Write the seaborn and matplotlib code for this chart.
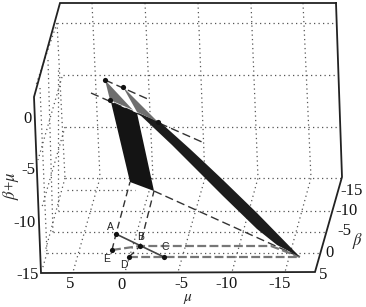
import matplotlib

matplotlib.use("Agg")

import matplotlib.pyplot as plt
import seaborn as sns

FRAME = [(336, 3), (60, 3), (34, 97), (41, 273), (315, 272), (342, 177), (336, 3)]

WALL_TOP_X = [92, 145, 198, 251, 303]
WALL_BOTTOM_X = [100, 153, 205, 258, 311]
FLOOR_FRONT_X = [73, 125, 178, 232, 285]
WALL_ROWS = [(57, 23, 335), (63, 75, 337), (65, 127, 339), (65, 178, 342)]
FLOOR_ROWS = [(67, 190, 135), (58, 211, 331), (53, 232, 326), (47, 253, 320)]
SIDE_LINES = [
    [(57, 23), (36, 85)],
    [(62, 77), (38, 160)],
    [(65, 127), (42, 207)],
    [(65, 178), (45, 252)],
    [(57, 23), (65, 178)],
    [(58, 70), (58, 210)],
    [(48, 60), (53, 233)],
    [(40, 88), (47, 253)],
    [(47, 253), (42, 270)],
]

GRAY_LEFT = [(105, 80), (110, 100), (133, 110)]
GRAY_RIGHT = [(123, 87), (137, 112), (158, 122)]
DARK_LEFT = [(111, 102), (137, 113), (154, 191), (130, 182)]
DARK_LONG = [
    (138, 113), (160, 122), (190, 149), (205, 163), (223, 180), (257, 213), (300, 257),
    (277, 245), (257, 229), (223, 196), (205, 178), (190, 163), (172, 145),
]

THIN_DASHED = [
    [(105, 80), (150, 100)],
    [(91, 93), (202, 142)],
    [(154, 191), (300, 257)],
]
DARK_DASHED = [
    [(112, 250), (116, 234), (130, 182)],
    [(129, 257), (140, 246), (154, 191)],
]
GRAY_DASHED = [
    [(112, 250), (140, 246), (271, 246), (300, 257)],
    [(129, 257), (300, 257)],
]
SEGMENT_AC = [(116, 234), (164, 257)]

POINTS = [(105, 80), (123, 87), (110, 100), (158, 122), (116, 234), (140, 246), (164, 257), (129, 257), (112, 250)]
POINT_LABELS = [("A", 110, 227), ("B", 141, 237), ("C", 165, 247), ("D", 124, 265), ("E", 107, 259)]

Z_TICKS = [("0", 28, 119), ("-5", 28, 170), ("-10", 25, 223), ("-15", 28, 275)]
MU_TICKS = [("5", 70, 284), ("0", 122, 285), ("-5", 181, 284), ("-10", 226, 284), ("-15", 280, 284)]
BETA_TICKS = [("5", 323, 275), ("0", 330, 253), ("-5", 344, 231), ("-10", 346, 211), ("-15", 352, 191)]


def draw_path(ax, pts, **kwargs):
    xs = [p[0] for p in pts]
    ys = [p[1] for p in pts]
    ax.plot(xs, ys, **kwargs)


sns.set_theme(style="white")
plt.rcParams["font.family"] = ["Liberation Serif", "DejaVu Serif"]

fig = plt.figure(figsize=(3.66, 3.07), dpi=100)
ax = fig.add_axes([0, 0, 1, 1])

dots = {"color": "#555555", "linewidth": 0.9, "linestyle": (0, (1, 2.6)), "zorder": 1}
for top, bottom, front in zip(WALL_TOP_X, WALL_BOTTOM_X, FLOOR_FRONT_X):
    sns.lineplot(x=[top, bottom, front], y=[3, 178, 272], sort=False, estimator=None, ax=ax, **dots)
for x0, y, x1 in WALL_ROWS + FLOOR_ROWS:
    sns.lineplot(x=[x0, x1], y=[y, y], sort=False, estimator=None, ax=ax, **dots)
for pts in SIDE_LINES:
    draw_path(ax, pts, **dots)

ax.fill(*zip(*DARK_LEFT), color="#141414", lw=0, zorder=3)
ax.fill(*zip(*DARK_LONG), color="#1c1c1c", lw=0, zorder=3)
ax.fill(*zip(*GRAY_LEFT), color="#6e6e6e", lw=0, zorder=4)
ax.fill(*zip(*GRAY_RIGHT), color="#6e6e6e", lw=0, zorder=4)

for pts in THIN_DASHED:
    draw_path(ax, pts, color="#333333", lw=1.0, ls=(0, (6, 3)), zorder=2)
for pts in DARK_DASHED:
    draw_path(ax, pts, color="#333333", lw=1.0, ls=(0, (5, 3)), zorder=2)
for pts in GRAY_DASHED:
    draw_path(ax, pts, color="#777777", lw=1.6, ls=(0, (4, 1.5)), zorder=2)
draw_path(ax, SEGMENT_AC, color="#444444", lw=1.2, zorder=2)

sns.scatterplot(x=[p[0] for p in POINTS], y=[p[1] for p in POINTS], color="#111111", s=14, linewidth=0, zorder=5, ax=ax)

draw_path(ax, FRAME, color="#222222", lw=1.3, zorder=6, solid_joinstyle="miter")

for label, x, y in Z_TICKS + MU_TICKS + BETA_TICKS:
    ax.text(x, y, label, fontsize=12, ha="center", va="center", color="#111111")
for label, x, y in POINT_LABELS:
    ax.text(x, y, label, fontsize=7.5, family="Liberation Sans", ha="center", va="center", color="#222222")

ax.text(188, 299, r"$\mu$", fontsize=11, ha="center", va="center", math_fontfamily="stix")
ax.text(358, 241, r"$\beta$", fontsize=12, ha="center", va="center", math_fontfamily="stix")
ax.text(11, 186, r"$\beta$+$\mu$", fontsize=12, rotation=90, ha="center", va="center", math_fontfamily="stix")

ax.set_xlim(0, 366)
ax.set_ylim(307, 0)
ax.set_xlabel("")
ax.set_ylabel("")
ax.axis("off")

fig.savefig("out.png", dpi=100)
